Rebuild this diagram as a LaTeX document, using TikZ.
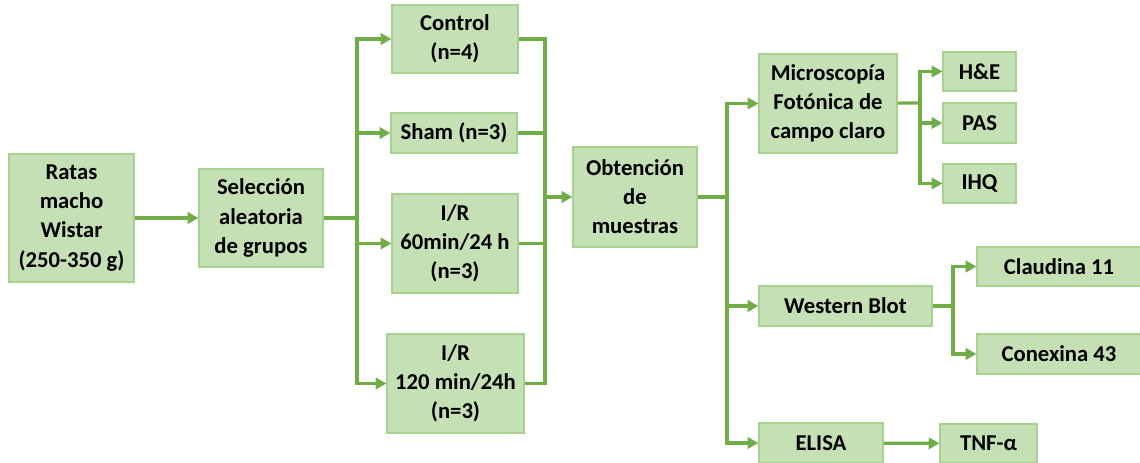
\documentclass[tikz,border=0pt]{standalone}
\usepackage{fontspec}
\setmainfont{Carlito}
\usetikzlibrary{arrows.meta}
\definecolor{boxfill}{HTML}{C5E0B4}
\definecolor{boxline}{HTML}{A9D18E}
\definecolor{flowgreen}{HTML}{70AD47}
\tikzset{
		% boxes and connectors of the flow chart
		step box/.style={rectangle,draw=boxline,fill=boxfill,line width=0.9pt,inner sep=0pt,
			align=center,font=\fontsize{17}{21.8}\selectfont\bfseries},
		wh/.style 2 args={minimum width=#1*0.75pt,minimum height=#2*0.75pt},
		flow line/.style={draw=flowgreen,line width=2.4pt},
		flow arrow/.style={flow line,-{Triangle[length=8pt,width=8.5pt]}}
	}
\begin{document}
\begin{tikzpicture}[x=0.75pt,y=-0.75pt]
		\useasboundingbox (0,0) rectangle (1140,463);
		% first column
		\node [step box,wh={125}{128}] (ratas) at (71.5,218) {Ratas\\macho\\Wistar\\(250-350 g)};
		\node [step box,wh={124}{98}] (seleccion) at (261,218) {Selección\\aleatoria\\de grupos};
		% groups
		\node [step box,wh={126}{68}] (control) at (455,39) {Control\\(n=4)};
		\node [step box,wh={126}{40}] (sham) at (454,133) {Sham (n=3)};
		\node [step box,wh={126}{99}] (ir60) at (455,243.5) {I/R\\60min/24 h\\(n=3)};
		\node [step box,wh={137}{99}] (ir120) at (455.5,383.5) {I/R\\120 min/24h\\(n=3)};
		\node [step box,wh={124}{100}] (obtencion) at (635,197) {Obtención\\de\\muestras};
		% analyses
		\node [step box,wh={138}{99}] (micro) at (828,103.5) {Microscopía\\Fotónica de\\campo claro};
		\node [step box,wh={73}{39}] (he) at (979.5,71.5) {H\&E};
		\node [step box,wh={73}{40}] (pas) at (979.5,123) {PAS};
		\node [step box,wh={73}{39}] (ihq) at (979.5,183.5) {IHQ};
		\node [step box,wh={173}{40}] (wb) at (845.5,306) {Western Blot};
		\node [step box,wh={164}{39}] (claudina) at (1059,266.5) {Claudina 11};
		\node [step box,wh={164}{40}] (conexina) at (1059,354) {Conexina 43};
		\node [step box,wh={124}{40}] (elisa) at (821,443) {ELISA};
		\node [step box,wh={97}{39}] (tnf) at (988.5,443.5) {TNF-α};
		% branch points
		\coordinate (split groups) at (357,218);
		\coordinate (join groups) at (545,197);
		\coordinate (split samples) at (727,197);
		\coordinate (split micro) at (920,103);
		\coordinate (split wb) at (953,306);
		% connectors
		\draw [flow arrow] (ratas) -- (seleccion);
		\draw [flow line] (seleccion) -- (split groups);
		\foreach \g in {control,sham,ir60,ir120}
			\draw [flow arrow] (split groups) |- (\g.west);
		\foreach \g in {control,sham,ir60,ir120}
			\draw [flow line] (\g.east) -| (join groups);
		\draw [flow arrow] (join groups) -- (obtencion);
		\draw [flow line] (obtencion) -- (split samples);
		\foreach \a in {micro,wb,elisa}
			\draw [flow arrow] (split samples) |- (\a.west);
		\draw [flow line] (micro) -- (split micro);
		\foreach \t in {he,pas,ihq}
			\draw [flow arrow] (split micro) |- (\t.west);
		\draw [flow line] (wb) -- (split wb);
		\foreach \t in {claudina,conexina}
			\draw [flow arrow] (split wb) |- (\t.west);
		\draw [flow arrow] (elisa) -- (tnf);
	\end{tikzpicture}
\end{document}
